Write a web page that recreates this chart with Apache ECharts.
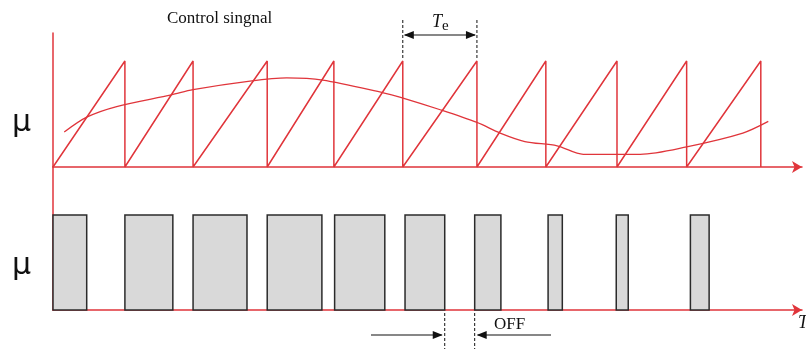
<!DOCTYPE html>
<html>
<head>
<meta charset="utf-8">
<script src="https://cdn.jsdelivr.net/npm/echarts@6/dist/echarts.min.js"></script>
<style>
html, body { margin: 0; padding: 0; background: #fff; }
#main { width: 806px; height: 349px; }
</style>
</head>
<body>
<div id="main"></div>
<script>
// time runs 0..100 along both axes
const toothStarts = [0, 9.6, 18.7, 28.6, 37.5, 46.7, 56.6, 65.8, 75.3, 84.6, 94.5]
const controlT = [1.5, 4.5, 8.5, 15.8, 18.7, 26.3, 31.2, 36.0, 44.1, 46.3, 51.7, 56.6, 59.7, 63.0, 67.3, 70.8, 78.4, 84.6, 92.1, 95.5]
const controlV = [0.33, 0.47, 0.57, 0.68, 0.73, 0.81, 0.84, 0.82, 0.70, 0.66, 0.54, 0.42, 0.32, 0.24, 0.20, 0.12, 0.12, 0.19, 0.32, 0.43]
const pulseStarts = [0, 9.6, 18.7, 28.6, 37.6, 47.0, 56.3, 66.1, 75.2, 85.1]
const pulseEnds = [4.5, 16.0, 25.9, 35.9, 44.3, 52.3, 59.8, 68.0, 76.8, 87.6]

const red = '#e0353b'

const sawData = []
for (let i = 0; i < toothStarts.length - 1; i++) {
    sawData.push([toothStarts[i], 0], [toothStarts[i + 1], 1], [toothStarts[i + 1], 0])
}
const controlData = controlT.map((t, i) => [t, controlV[i]])
const pulseData = pulseStarts.map((s, i) => [s, pulseEnds[i]])

const chart = echarts.init(document.getElementById('main'))

const xAxisBase = {
    type: 'value',
    min: 0,
    max: 100,
    axisLine: {
        show: true,
        symbol: ['none', 'arrow'],
        symbolSize: [9, 10],
        lineStyle: { color: red, width: 1.5 }
    },
    axisTick: { show: false },
    axisLabel: { show: false },
    splitLine: { show: false }
}
const yAxisBase = {
    type: 'value',
    min: 0,
    axisLine: { show: true, lineStyle: { color: red, width: 1.5 } },
    axisTick: { show: false },
    axisLabel: { show: false },
    splitLine: { show: false }
}

chart.setOption({
    animation: false,
    grid: [
        { left: 53, right: 4, top: 33, height: 134 },
        { left: 53, right: 4, top: 167, height: 143 }
    ],
    xAxis: [
        Object.assign({ gridIndex: 0 }, xAxisBase),
        Object.assign({ gridIndex: 1 }, xAxisBase)
    ],
    yAxis: [
        Object.assign({ gridIndex: 0, max: 1.264 }, yAxisBase),
        Object.assign({ gridIndex: 1, max: 1.505 }, yAxisBase)
    ],
    series: [
        {
            type: 'line',
            xAxisIndex: 0,
            yAxisIndex: 0,
            data: sawData,
            showSymbol: false,
            lineStyle: { color: red, width: 1.5 }
        },
        {
            type: 'line',
            xAxisIndex: 0,
            yAxisIndex: 0,
            data: controlData,
            smooth: 0.3,
            showSymbol: false,
            lineStyle: { color: red, width: 1.3 }
        },
        {
            type: 'custom',
            xAxisIndex: 1,
            yAxisIndex: 1,
            data: pulseData,
            encode: { x: [0, 1] },
            renderItem: function (params, api) {
                const p0 = api.coord([api.value(0), 1])
                const p1 = api.coord([api.value(1), 0])
                return {
                    type: 'rect',
                    shape: { x: p0[0], y: p0[1], width: p1[0] - p0[0], height: p1[1] - p0[1] },
                    style: { fill: '#d9d9d9', stroke: '#2b2b2b', lineWidth: 1.5 }
                }
            }
        }
    ]
})

// annotations placed from the data positions
const px = v => chart.convertToPixel({ xAxisIndex: 0 }, v)
const teA = px(toothStarts[5])
const teB = px(toothStarts[6])
const offA = px(pulseEnds[5])
const offB = px(pulseStarts[6])
const dash = { stroke: '#111', lineWidth: 1, lineDash: [3, 2] }
const solid = { stroke: '#111', lineWidth: 1.2 }
const head = (tipX, y, dir) => ({
    type: 'polygon',
    shape: { points: [[tipX, y], [tipX - dir * 10, y - 4], [tipX - dir * 10, y + 4]] },
    style: { fill: '#111' }
})
const serif = '"Liberation Serif", "DejaVu Serif", serif'

chart.setOption({
    graphic: [
        { type: 'text', left: 167, top: 10, style: { text: 'Control singnal', font: '17px ' + serif, fill: '#111' } },
        { type: 'text', left: 12, top: 108, style: { text: 'μ', font: '30px "DejaVu Sans", sans-serif', fill: '#111' } },
        { type: 'text', left: 12, top: 251, style: { text: 'μ', font: '30px "DejaVu Sans", sans-serif', fill: '#111' } },
        // T_e
        { type: 'line', shape: { x1: teA, y1: 20, x2: teA, y2: 60 }, style: dash },
        { type: 'line', shape: { x1: teB, y1: 20, x2: teB, y2: 60 }, style: dash },
        { type: 'line', shape: { x1: teA + 2, y1: 35, x2: teB - 2, y2: 35 }, style: solid },
        head(teA + 1, 35, -1),
        head(teB - 1, 35, 1),
        {
            type: 'text', x: 432, y: 11,
            style: {
                text: '{t|T}{e|e}',
                rich: {
                    t: { font: 'italic 18px ' + serif, fill: '#111' },
                    e: { font: '15px ' + serif, fill: '#111', padding: [8, 0, 0, 0] }
                }
            }
        },
        // OFF
        { type: 'line', shape: { x1: offA, y1: 313, x2: offA, y2: 349 }, style: dash },
        { type: 'line', shape: { x1: offB, y1: 313, x2: offB, y2: 349 }, style: dash },
        { type: 'line', shape: { x1: 371, y1: 335, x2: offA - 3, y2: 335 }, style: solid },
        head(offA - 2, 335, 1),
        { type: 'line', shape: { x1: offB + 3, y1: 335, x2: 551, y2: 335 }, style: solid },
        head(offB + 2, 335, -1),
        { type: 'text', left: 494, top: 316, style: { text: 'OFF', font: '17px ' + serif, fill: '#111' } },
        { type: 'text', left: 798, top: 314, style: { text: 'T', font: 'italic 18px ' + serif, fill: '#111' } }
    ]
})
</script>
</body>
</html>
